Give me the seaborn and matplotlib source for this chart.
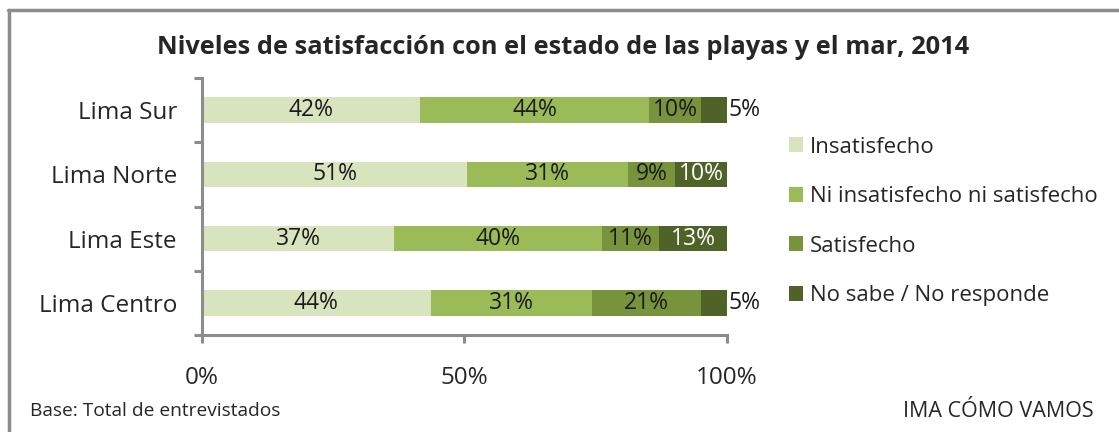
import numpy as np
import pandas as pd
import matplotlib.pyplot as plt
from matplotlib.lines import Line2D
from matplotlib.patches import Patch
import seaborn as sns

# Data
zonas = ["Lima Sur", "Lima Norte", "Lima Este", "Lima Centro"]
niveles = ["Insatisfecho", "Ni insatisfecho ni satisfecho", "Satisfecho", "No sabe / No responde"]
insatisfecho = [42, 51, 37, 44]
ni_ni = [44, 31, 40, 31]
satisfecho = [10, 9, 11, 21]
no_sabe = [5, 10, 13, 5]

colores = ["#d7e4bd", "#9bbb59", "#77933c", "#4f6228"]
gris = "#8c8c8c"

df = pd.DataFrame({"zona": zonas, niveles[0]: insatisfecho, niveles[1]: ni_ni,
                   niveles[2]: satisfecho, niveles[3]: no_sabe})
vals = df[niveles].to_numpy(dtype=float)
share = vals / vals.sum(axis=1, keepdims=True) * 100
cum = share.cumsum(axis=1)

sns.set_style("white")
plt.rcParams["font.family"] = ["Open Sans", "DejaVu Sans"]

fig = plt.figure(figsize=(11.19, 4.32), dpi=100)
ax = fig.add_axes([0.1805, 0.2245, 0.4692, 0.5949])

# stacked bars: draw cumulative totals from the back
for i in range(len(niveles) - 1, -1, -1):
    sns.barplot(x=cum[:, i], y=zonas, orient="h", color=colores[i], saturation=1,
                width=0.4, linewidth=0, ax=ax)

# labels
for r in range(len(zonas)):
    for i in range(len(niveles)):
        centro = cum[r, i] - share[r, i] / 2
        texto = f"{int(vals[r, i])}%"
        if share[r, i] < 6:
            ax.annotate(texto, (cum[r, i], r), xytext=(1, 0), textcoords="offset points",
                        ha="left", va="center", fontsize=16.5, color="#1a1a1a")
        else:
            ax.text(centro, r, texto, ha="center", va="center", fontsize=16.5,
                    color="white" if i == 3 else "#1a1a1a")

ax.set_xlim(0, 100)
ax.set_ylim(3.5, -0.5)
ax.set_xticks([0, 50, 100])
ax.set_xticklabels(["0%", "50%", "100%"], fontsize=17.5)
ax.set_yticks([-0.5, 0.5, 1.5, 2.5, 3.5])
ax.set_yticklabels([])
ax.set_yticks(range(len(zonas)), minor=True)
ax.set_yticklabels(zonas, minor=True, fontsize=17.5)
ax.set_xlabel("")
ax.set_ylabel("")
ax.tick_params(axis="y", which="major", left=True, length=6, width=2.2, color=gris, direction="out")
ax.tick_params(axis="y", which="minor", left=False, length=0, pad=18)
ax.tick_params(axis="x", bottom=True, length=6, width=2.2, color=gris, direction="out", pad=16)
for s in ["top", "right"]:
    ax.spines[s].set_visible(False)
for s in ["left", "bottom"]:
    ax.spines[s].set_color(gris)
    ax.spines[s].set_linewidth(2.2)

handles = [Patch(facecolor=c, edgecolor="none") for c in colores]
fig.legend(handles, niveles, loc="upper left", bbox_to_anchor=(0.687, 0.73),
           frameon=False, fontsize=16, handlelength=0.65, handleheight=0.65,
           handletextpad=0.3, labelspacing=1.28)

fig.text(0.503, 0.89, "Niveles de satisfacción con el estado de las playas y el mar, 2014",
         ha="center", va="center", fontsize=18.3, fontweight="bold")
fig.text(0.027, 0.048, "Base: Total de entrevistados", ha="left", va="center", fontsize=13.8)
fig.text(0.977, 0.048, "IMA CÓMO VAMOS", ha="right", va="center", fontsize=15.5)

# outer frame
fig.add_artist(Line2D([0.007, 1.0], [0.977, 0.977], color=gris, lw=2.5, transform=fig.transFigure))
fig.add_artist(Line2D([0.008, 0.008], [0.0, 0.977], color=gris, lw=2.5, transform=fig.transFigure))

fig.savefig("out.png", dpi=100)
